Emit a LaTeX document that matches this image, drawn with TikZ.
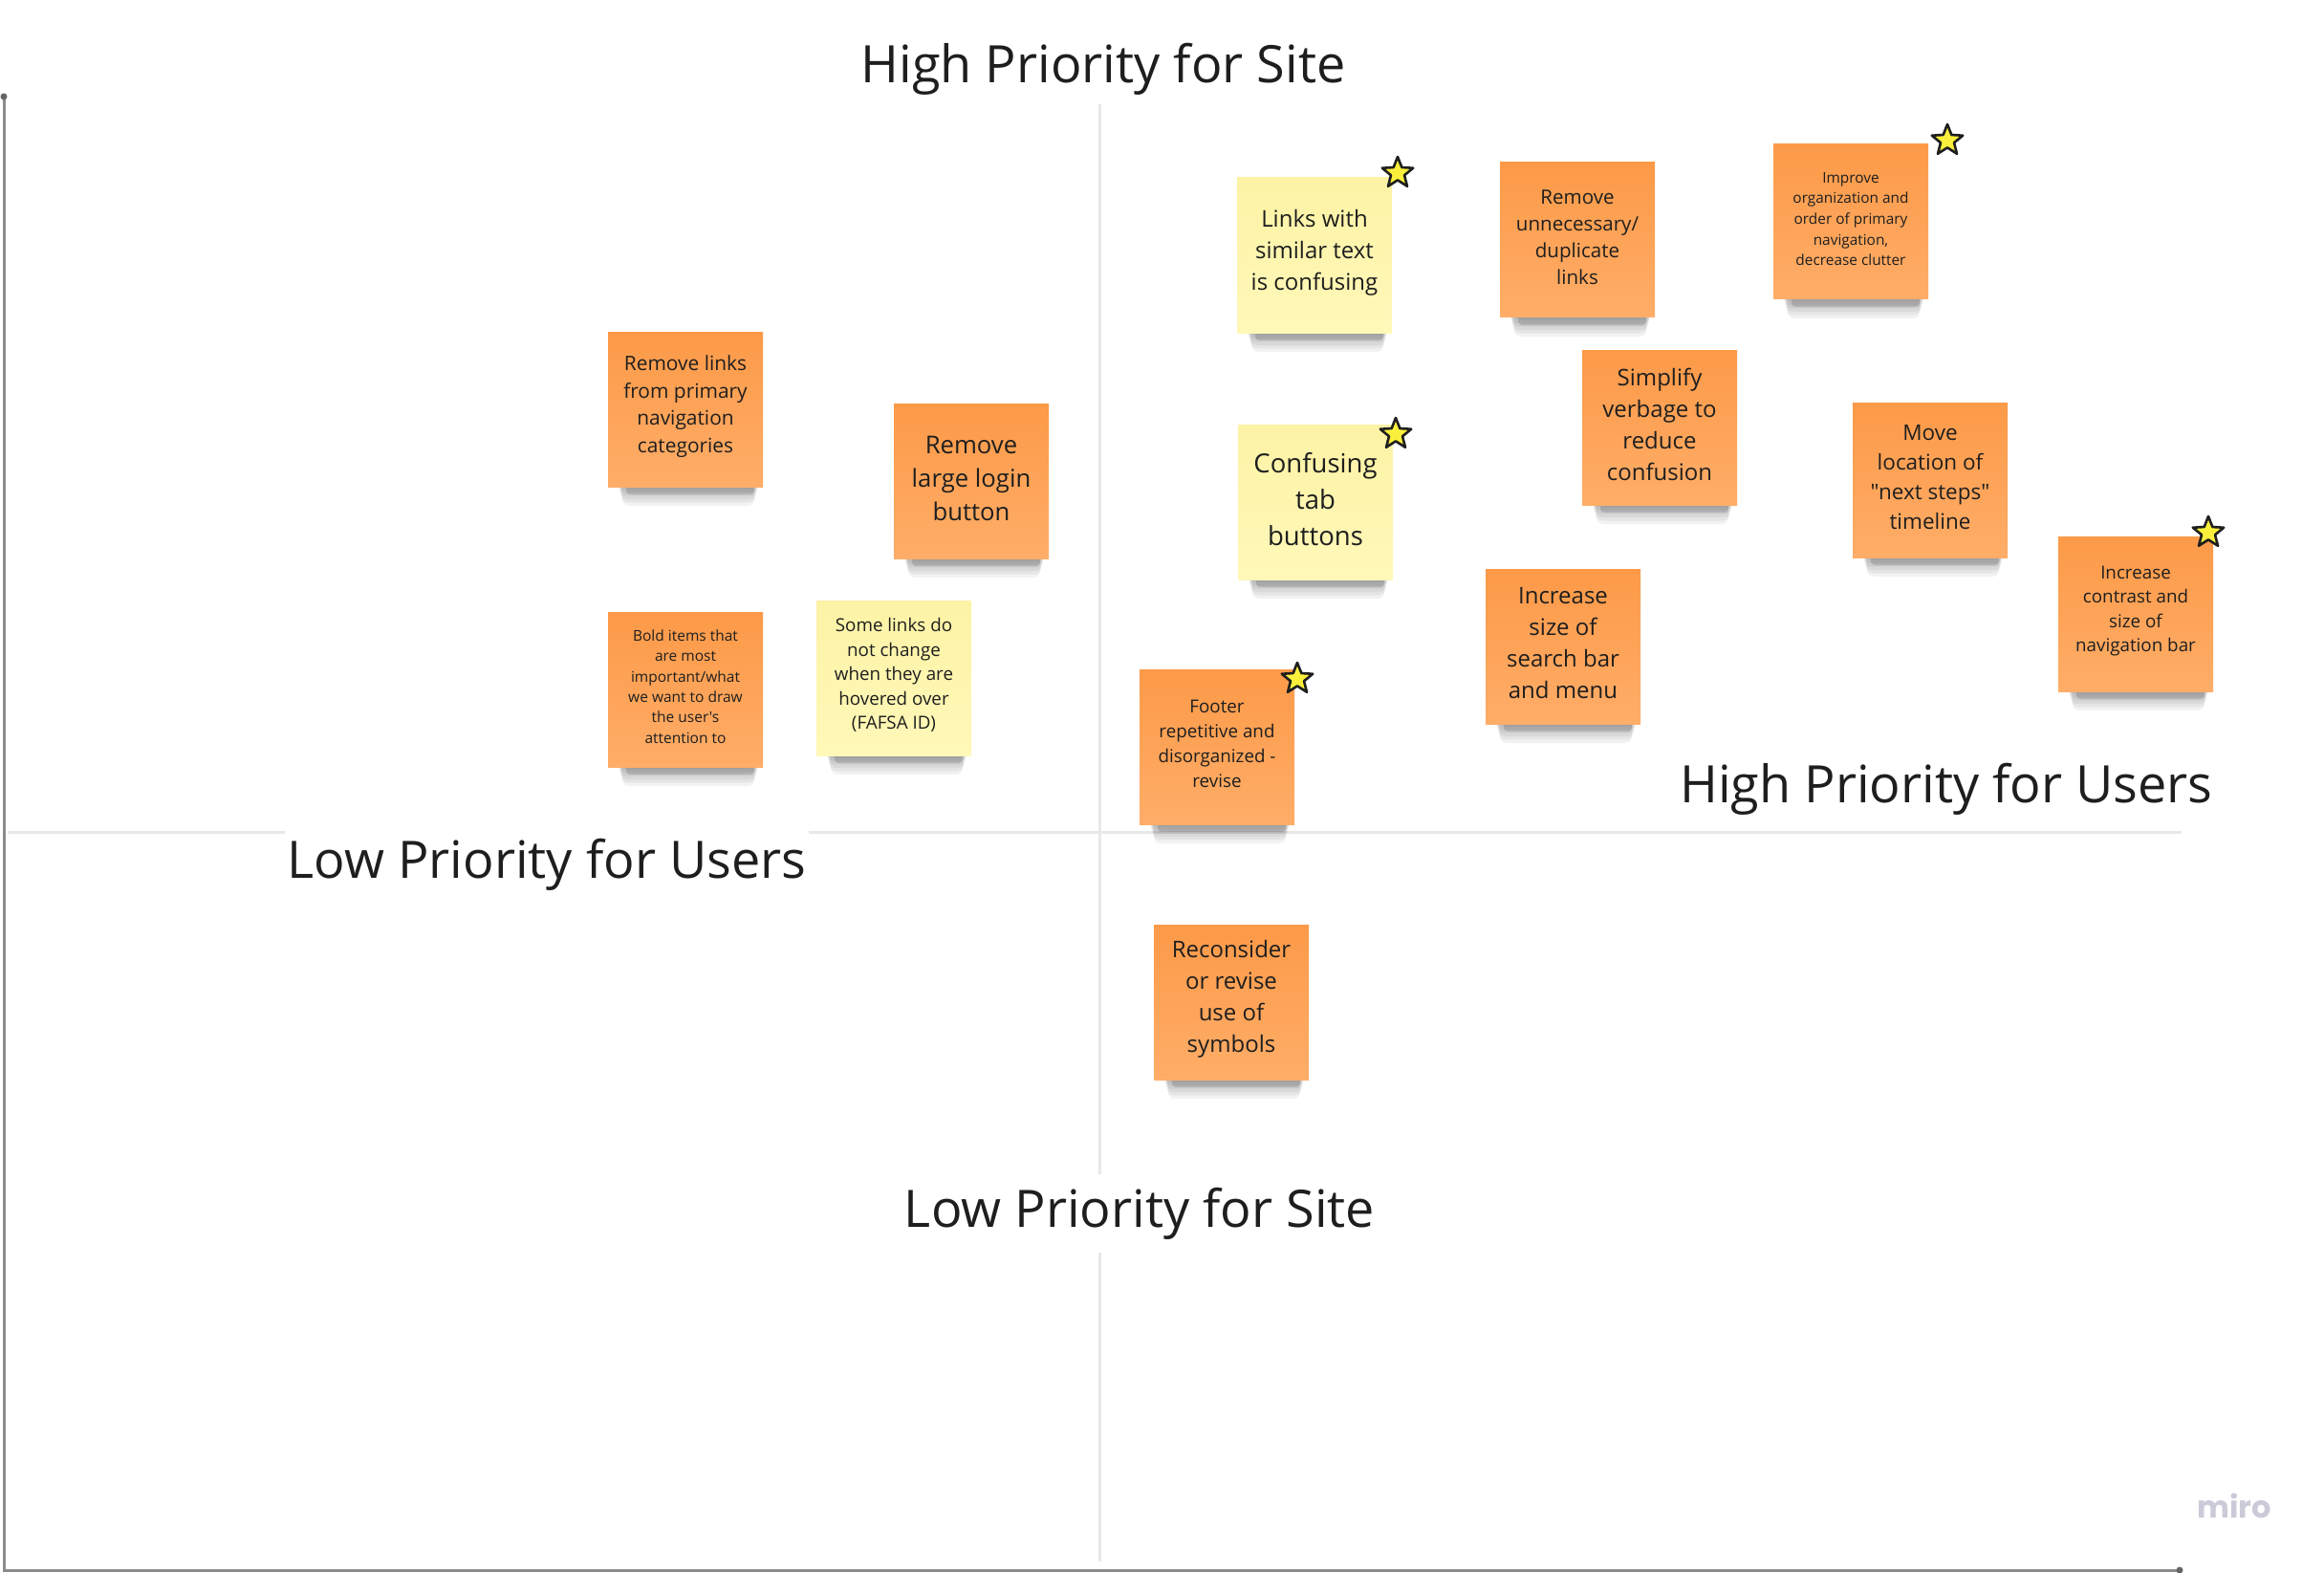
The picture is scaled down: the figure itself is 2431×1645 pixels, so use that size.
\documentclass[tikz,border=0pt]{standalone}
\usepackage{fontspec}
\setmainfont{Open Sans}[Ligatures=TeXOff]
\newfontfamily\mirofont{Poppins}
\usetikzlibrary{shapes.geometric}
\definecolor{txt}{HTML}{1E1E1E}
\definecolor{orTop}{HTML}{FC9A48}
\definecolor{orBot}{HTML}{FFAD68}
\definecolor{yeTop}{HTML}{FDF3A6}
\definecolor{yeBot}{HTML}{FFF8B8}
\definecolor{starY}{HTML}{FAF03C}
\definecolor{gridc}{HTML}{E8E8E8}
\definecolor{axisc}{HTML}{8C8C8C}
\definecolor{miroc}{HTML}{CACAD8}
\tikzset{
  orangenote/.style={rectangle, minimum width=162pt, minimum height=162pt, inner sep=0pt, top color=orTop, bottom color=orBot, draw=none},
  yellownote/.style={rectangle, minimum width=162pt, minimum height=162pt, inner sep=0pt, top color=yeTop, bottom color=yeBot, draw=none},
  notetext/.style={align=center, text=txt, inner sep=0pt},
  heading/.style={text=txt, font=\fontsize{54pt}{64pt}\selectfont, anchor=base, inner xsep=3pt, inner ysep=14pt},
  starmark/.style={star, star points=5, star point ratio=2.3, minimum size=34pt, inner sep=0pt, fill=starY, draw=black!88, line width=2.6pt, line join=round},
  gridline/.style={draw=gridc, line width=3pt},
  axisline/.style={draw=axisc, line width=3pt}
}
\newcommand\mysticky[7]{%
  \foreach \k in {1,...,6}{\fill[black,opacity=0.05,rounded corners=7pt] ({#2-72+\k},{#3+72}) rectangle ({#2+78-\k},{#3+80+3.5*\k});}
  \fill[black,opacity=0.13,rounded corners=4pt] ({#2-62},{#3+76}) rectangle ({#2+72},{#3+89});
  \node[#4] (#1) at (#2,#3) {};
  \node[notetext, font=\fontsize{#5pt}{#6pt}\selectfont] (#1t) at ([yshift=3pt]#1.center) {#7};
}
\begin{document}
\begin{tikzpicture}[x=1pt,y=-1pt]
\useasboundingbox (0,0) rectangle (2431,1645);
\fill[white] (0,0) rectangle (2431,1645);
% quadrant lines
\coordinate (vtop) at (1150,109);
\coordinate (vbot) at (1150,1633);
\coordinate (hl) at (8,870);
\coordinate (hr) at (2282,870);
\draw[gridline] (vtop) -- (vbot);
\draw[gridline] (hl) -- (hr);
% axes
\coordinate (atop) at (4,101);
\coordinate (aorig) at (4,1642);
\coordinate (aright) at (2280,1642);
\draw[axisline] (atop) -- (aorig) -- (aright);
\fill[black!60] (atop) circle (3.5pt);
\fill[black!60] (aright) circle (3.5pt);
% headings
\node[heading] (hsite) at (1154,87) {High Priority for Site};
\node[heading, fill=white, inner ysep=17pt] (lusers) at (572,918) {Low Priority for Users};
\node[heading] (husers) at (2036,839) {High Priority for Users};
\node[heading, fill=white] (lsite) at (1192,1283) {Low Priority for Site};
% stickies
\mysticky{s1}{717}{428}{orangenote}{20.9}{28.4}{Remove links\\from primary\\navigation\\categories}
\mysticky{s2}{1016}{503}{orangenote}{25.7}{35}{Remove\\large login\\button}
\mysticky{s3}{717}{721}{orangenote}{15.5}{21.4}{Bold items that\\are most\\important/what\\we want to draw\\the user's\\attention to}
\mysticky{s4}{935}{709}{yellownote}{18.8}{25.6}{Some links do\\not change\\when they are\\hovered over\\(FAFSA ID)}
\mysticky{s5}{1375}{267}{yellownote}{24}{33}{Links with\\similar text\\is confusing}
\mysticky{s6}{1376}{525}{yellownote}{27.5}{38}{Confusing\\tab\\buttons}
\mysticky{s7}{1650}{251}{orangenote}{20.6}{28}{Remove\\unnecessary/\\duplicate\\links}
\mysticky{s8}{1936}{232}{orangenote}{15.4}{21.7}{Improve\\organization and\\order of primary\\navigation,\\decrease clutter}
\mysticky{s9}{1736}{447}{orangenote}{24}{33}{Simplify\\verbage to\\reduce\\confusion}
\mysticky{s10}{2019}{502}{orangenote}{22.5}{31}{Move\\location of\\"next steps"\\timeline}
\mysticky{s11}{1635}{676}{orangenote}{24}{33}{Increase\\size of\\search bar\\and menu}
\mysticky{s12}{2234}{642}{orangenote}{18.8}{25.6}{Increase\\contrast and\\size of\\navigation bar}
\mysticky{s13}{1273}{781}{orangenote}{18.8}{25.8}{Footer\\repetitive and\\disorganized -\\revise}
\mysticky{s14}{1288}{1048}{orangenote}{24}{33}{Reconsider\\or revise\\use of\\symbols}
% stars
\node[starmark] (st5) at (1462,181) {};
\node[starmark] (st6) at (1460,454) {};
\node[starmark] (st8) at (2037,147) {};
\node[starmark] (st12) at (2310,557) {};
\node[starmark] (st13) at (1357,710) {};
% logo
\node[text=miroc, font=\mirofont\bfseries\fontsize{32pt}{36pt}\selectfont, anchor=base] (logo) at (2337,1587) {miro};
\end{tikzpicture}
\end{document}
